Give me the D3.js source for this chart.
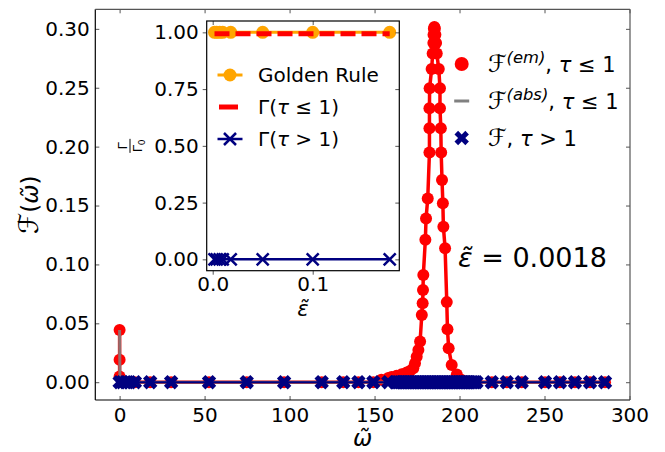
<!DOCTYPE html>
<html>
<head>
<meta charset="utf-8">
<script src="https://cdn.jsdelivr.net/npm/d3@7"></script>
<style>
  body { margin: 0; background: #fff; }
  svg { font-family: "DejaVu Sans", sans-serif; }
</style>
</head>
<body>
<div id="chart"></div>
<script>
// ---- main panel data: [omega, F] ----
const emission = [
  [0, 0.0443], [0, 0.019], [0, 0.0048], [1.5, 0], [3.5, 0], [6, 0], [9, 0], [18, 0],
  [30.3, 0], [52.6, 0], [74.8, 0], [96.8, 0], [118.9, 0], [131.6, 0], [140.5, 0],
  [149.3, 0], [154, 0.002], [158.1, 0.0035], [160, 0.0045], [163, 0.0054], [166, 0.0068],
  [168.9, 0.0082], [170.9, 0.0095], [172.8, 0.0119], [173.8, 0.016], [174.8, 0.0217],
  [175.8, 0.0274], [176.8, 0.0345], [177.8, 0.0571], [178.3, 0.067], [178.5, 0.0783],
  [178.7, 0.0911], [179.9, 0.121], [180.3, 0.139], [181.3, 0.156], [182.3, 0.195],
  [182.3, 0.2156], [182.3, 0.2326], [182.4, 0.2496], [183.6, 0.266], [184.2, 0.279],
  [184.6, 0.288], [184.7, 0.295], [184.9, 0.300], [185.2, 0.3015], [185.5, 0.300],
  [185.8, 0.295], [186.2, 0.288], [186.6, 0.279], [187.8, 0.266], [188.5, 0.2496],
  [188.5, 0.2326], [189.0, 0.2156], [189.2, 0.195], [189.7, 0.1717], [190.2, 0.152],
  [190.5, 0.132], [191.5, 0.1138], [192.5, 0.068], [192.9, 0.045], [193.6, 0.0289],
  [195.4, 0.0147], [198.4, 0.0065], [201, 0.002], [204, 0], [207, 0], [210, 0],
  [219, 0], [227.8, 0], [236.6, 0], [250.3, 0], [259.1, 0], [267.9, 0], [276.8, 0], [285.6, 0]
];

const absorption = [
  [0, 0.0443], [0.2, 0], [1.5, 0], [3.5, 0], [6, 0], [9, 0], [18, 0], [30.3, 0],
  [52.6, 0], [74.8, 0], [96.8, 0], [118.9, 0], [131.6, 0], [140.5, 0], [149.3, 0],
  [158.1, 0], [170, 0], [185, 0], [200, 0], [210, 0], [219, 0], [236.6, 0],
  [250.3, 0], [267.9, 0], [285.6, 0]
];

const fTauGt1 = [
  [0, 0], [1.5, 0], [3.5, 0], [6, 0], [9, 0], [18, 0], [30.3, 0], [52.6, 0], [74.8, 0],
  [96.8, 0], [118.9, 0], [131.6, 0], [140.5, 0], [149.3, 0], [158.1, 0],
  [162, 0], [163, 0], [164, 0], [165, 0], [166, 0], [167, 0], [168, 0], [169, 0],
  [170, 0], [171, 0], [172, 0], [173, 0], [174, 0], [175, 0], [176, 0], [177, 0],
  [178, 0], [179, 0], [180, 0], [181, 0], [182, 0], [183, 0], [184, 0], [185, 0],
  [186, 0], [187, 0], [188, 0], [189, 0], [190, 0], [191, 0], [192, 0], [193, 0],
  [194, 0], [195, 0], [196, 0], [197, 0], [198, 0], [199, 0], [200, 0], [201, 0],
  [202, 0], [203, 0], [204, 0], [205, 0], [206, 0], [207, 0], [208, 0], [209, 0],
  [210, 0], [219, 0], [227.8, 0], [236.6, 0], [250.3, 0], [259.1, 0], [267.9, 0],
  [276.8, 0], [285.6, 0]
];

const xTicks = [0, 50, 100, 150, 200, 250, 300];
const yTicks = [0, 0.05, 0.10, 0.15, 0.20, 0.25, 0.30];

// ---- inset data ----
const epsilon = [0.0018, 0.004, 0.007, 0.01, 0.018, 0.05, 0.1, 0.177];
const goldenRule = [1, 1, 1, 1, 1, 1, 1, 1];
const gammaLe1 = [0.994, 0.994, 0.994, 0.994, 0.994, 0.994, 0.994, 0.994];
const gammaGt1 = [0, 0, 0, 0, 0, 0, 0, 0];
const insetXTicks = [0, 0.1];
const insetYTicks = [0, 0.25, 0.5, 0.75, 1.0];

const RED = '#ff0000', GRAY = '#808080', NAVY = '#000080', ORANGE = '#ffa500';

const width = 665, height = 452;
const margin = { top: 9.3, right: 35, bottom: 52, left: 95.3 };
const FONT = '"DejaVu Sans", sans-serif';

const svg = d3.select('#chart').append('svg')
  .attr('width', width)
  .attr('height', height);

const x = d3.scaleLinear().domain([-14.3, 300.3]).range([margin.left, width - margin.right]);
const y = d3.scaleLinear().domain([-0.0151, 0.3166]).range([height - margin.bottom, margin.top]);

// rich text helper: parts = [{t, it, sup, sub, fs}]
function rich(textSel, parts, size) {
  let shift = 0;
  parts.forEach(p => {
    const ts = textSel.append('tspan').text(p.t);
    let target = 0, fs = p.fs || size;
    if (p.sup) { target = -size * 0.45; fs = size * 0.78; }
    if (p.sub) { target = size * 0.25; fs = size * 0.7; }
    ts.attr('dy', target - shift).attr('font-size', fs);
    if (p.it) ts.attr('font-style', 'italic');
    shift = target;
  });
  return textSel;
}

// X-shaped filled marker
const filledX = d3.symbol().type(d3.symbolCross).size(130)();
const thinX = 'M-6,-6L6,6M-6,6L6,-6';

// ---- main data ----
const line = d3.line().x(d => x(d[0])).y(d => y(d[1]));
const plot = svg.append('g');

plot.append('path').datum(emission)
  .attr('d', line).attr('fill', 'none').attr('stroke', RED).attr('stroke-width', 3.5);
plot.append('g').selectAll('circle').data(emission).join('circle')
  .attr('cx', d => x(d[0])).attr('cy', d => y(d[1])).attr('r', 6).attr('fill', RED);

plot.append('path').datum(absorption)
  .attr('d', line).attr('fill', 'none').attr('stroke', GRAY).attr('stroke-width', 3)
  .attr('stroke-opacity', 0.85);

plot.append('path').datum(fTauGt1)
  .attr('d', line).attr('fill', 'none').attr('stroke', NAVY).attr('stroke-width', 2);
plot.append('g').selectAll('path').data(fTauGt1).join('path')
  .attr('d', filledX)
  .attr('transform', d => `translate(${x(d[0])},${y(d[1])}) rotate(45)`)
  .attr('fill', NAVY);

// ---- main axes ----
function tidy(g, size) {
  g.attr('font-family', FONT).attr('font-size', size);
  g.select('.domain').remove();
  g.selectAll('.tick line').attr('stroke', '#555');
  g.selectAll('.tick text').attr('fill', '#000');
}
const x0 = margin.left, x1 = width - margin.right;
const y0 = margin.top, y1 = height - margin.bottom;

svg.append('g').attr('transform', `translate(0,${y1})`)
  .call(d3.axisBottom(x).tickValues(xTicks).tickSize(-4).tickPadding(7.5).tickFormat(d3.format('d')))
  .call(g => tidy(g, 20));
svg.append('g').attr('transform', `translate(0,${y0})`)
  .call(d3.axisTop(x).tickValues(xTicks).tickSize(-4).tickFormat(''))
  .call(g => tidy(g, 20));
svg.append('g').attr('transform', `translate(${x0},0)`)
  .call(d3.axisLeft(y).tickValues(yTicks).tickSize(-4).tickPadding(5.5).tickFormat(d3.format('.2f')))
  .call(g => tidy(g, 20));
svg.append('g').attr('transform', `translate(${x1},0)`)
  .call(d3.axisRight(y).tickValues(yTicks).tickSize(-4).tickFormat(''))
  .call(g => tidy(g, 20));

// spines
svg.append('line').attr('x1', x0).attr('x2', x0).attr('y1', y0).attr('y2', y1).attr('stroke', '#000').attr('stroke-width', 1.2);
svg.append('line').attr('x1', x0).attr('x2', x1).attr('y1', y1).attr('y2', y1).attr('stroke', '#000').attr('stroke-width', 1.2);
svg.append('line').attr('x1', x0).attr('x2', x1).attr('y1', y0).attr('y2', y0).attr('stroke', '#555').attr('stroke-width', 1.2);
svg.append('line').attr('x1', x1).attr('x2', x1).attr('y1', y0).attr('y2', y1).attr('stroke', '#555').attr('stroke-width', 1.2);

// axis labels
rich(svg.append('text').attr('x', (x0 + x1) / 2).attr('y', 446).attr('text-anchor', 'middle')
  .attr('font-family', FONT), [{ t: 'ω\u0303', it: true }], 23);
rich(svg.append('text').attr('transform', `translate(38,${(y0 + y1) / 2}) rotate(-90)`)
  .attr('text-anchor', 'middle').attr('font-family', FONT),
  [{ t: 'ℱ', fs: 27 }, { t: '(' }, { t: 'ω\u0303', it: true }, { t: ')' }], 23);

// annotation
rich(svg.append('text').attr('x', 458).attr('y', 267).attr('font-family', FONT),
  [{ t: 'ε\u0303', it: true }, { t: ' = 0.0018' }], 27);

// ---- main legend ----
const legendItems = [
  { kind: 'circle', parts: [{ t: 'ℱ', fs: 24 }, { t: '(em)', sup: true, it: true }, { t: ', ' }, { t: 'τ', it: true }, { t: ' ≤ 1' }] },
  { kind: 'line', parts: [{ t: 'ℱ', fs: 24 }, { t: '(abs)', sup: true, it: true }, { t: ', ' }, { t: 'τ', it: true }, { t: ' ≤ 1' }] },
  { kind: 'x', parts: [{ t: 'ℱ', fs: 24 }, { t: ', ' }, { t: 'τ', it: true }, { t: ' > 1' }] }
];
const legend = svg.append('g').attr('transform', 'translate(461.7,64)');
legendItems.forEach((it, i) => {
  const g = legend.append('g').attr('transform', `translate(0,${i * 37})`);
  if (it.kind === 'circle') g.append('circle').attr('r', 7).attr('fill', RED);
  if (it.kind === 'line') g.append('line').attr('x1', -7.5).attr('x2', 7.5).attr('stroke', GRAY).attr('stroke-width', 3);
  if (it.kind === 'x') g.append('path').attr('d', filledX).attr('transform', 'rotate(45)').attr('fill', NAVY);
  rich(g.append('text').attr('x', 26).attr('y', 8).attr('font-family', FONT), it.parts, 21);
});

// ---- inset ----
const box = { left: 206.7, right: 399.3, top: 21, bottom: 270.7 };
const xi = d3.scaleLinear().domain([-0.006, 0.1866]).range([box.left, box.right]);
const yi = d3.scaleLinear().domain([-0.05, 1.05]).range([box.bottom, box.top]);
const inset = svg.append('g');
inset.append('rect').attr('x', box.left).attr('y', box.top)
  .attr('width', box.right - box.left).attr('height', box.bottom - box.top)
  .attr('fill', '#fff');

const lineI = d3.line().x(d => xi(d[0])).y(d => yi(d[1]));
const gr = d3.zip(epsilon, goldenRule);
const gl = d3.zip(epsilon, gammaLe1);
const gg = d3.zip(epsilon, gammaGt1);

inset.append('path').datum(gr).attr('d', lineI).attr('fill', 'none').attr('stroke', ORANGE).attr('stroke-width', 3);
inset.append('g').selectAll('circle').data(gr).join('circle')
  .attr('cx', d => xi(d[0])).attr('cy', d => yi(d[1])).attr('r', 6.5).attr('fill', ORANGE);
inset.append('path').datum(gl).attr('d', lineI).attr('fill', 'none').attr('stroke', RED)
  .attr('stroke-width', 5).attr('stroke-dasharray', '15,6');
inset.append('path').datum(gg).attr('d', lineI).attr('fill', 'none').attr('stroke', NAVY).attr('stroke-width', 2.5);
inset.append('g').selectAll('path').data(gg).join('path')
  .attr('d', thinX).attr('transform', d => `translate(${xi(d[0])},${yi(d[1])})`)
  .attr('stroke', NAVY).attr('stroke-width', 2.5).attr('fill', 'none');

inset.append('g').attr('transform', `translate(0,${box.bottom})`)
  .call(d3.axisBottom(xi).tickValues(insetXTicks).tickSize(4).tickPadding(2.5).tickFormat(d3.format('.1f')))
  .call(g => tidy(g, 20));
inset.append('g').attr('transform', `translate(0,${box.top})`)
  .call(d3.axisTop(xi).tickValues(insetXTicks).tickSize(-4).tickFormat(''))
  .call(g => tidy(g, 20));
inset.append('g').attr('transform', `translate(${box.left},0)`)
  .call(d3.axisLeft(yi).tickValues(insetYTicks).tickSize(4).tickPadding(4).tickFormat(d3.format('.2f')))
  .call(g => tidy(g, 20));
inset.append('g').attr('transform', `translate(${box.right},0)`)
  .call(d3.axisRight(yi).tickValues(insetYTicks).tickSize(-4).tickFormat(''))
  .call(g => tidy(g, 20));
inset.append('rect').attr('x', box.left).attr('y', box.top)
  .attr('width', box.right - box.left).attr('height', box.bottom - box.top)
  .attr('fill', 'none').attr('stroke', '#000').attr('stroke-width', 1.2);

// inset labels
rich(inset.append('text').attr('x', (box.left + box.right) / 2).attr('y', 316)
  .attr('text-anchor', 'middle').attr('font-family', FONT), [{ t: 'ε\u0303', it: true }], 21);
const frac = inset.append('g')
  .attr('transform', `translate(130,${(box.top + box.bottom) / 2}) rotate(-90)`)
  .attr('font-family', FONT).attr('font-size', 13);
frac.append('text').attr('y', -3).attr('text-anchor', 'middle').text('Γ');
frac.append('line').attr('x1', -7).attr('x2', 7).attr('stroke', '#000').attr('stroke-width', 1);
rich(frac.append('text').attr('y', 12).attr('text-anchor', 'middle'), [{ t: 'Γ' }, { t: '0', sub: true }], 13);

// inset legend
const insetLegend = [
  { kind: 'golden', parts: [{ t: 'Golden Rule' }] },
  { kind: 'dash', parts: [{ t: 'Γ(' }, { t: 'τ', it: true }, { t: ' ≤ 1)' }] },
  { kind: 'x', parts: [{ t: 'Γ(' }, { t: 'τ', it: true }, { t: ' > 1)' }] }
];
const il = inset.append('g').attr('transform', 'translate(230,75)');
insetLegend.forEach((it, i) => {
  const g = il.append('g').attr('transform', `translate(0,${i * 32})`);
  if (it.kind === 'golden') {
    g.append('line').attr('x1', -12.5).attr('x2', 12.5).attr('stroke', ORANGE).attr('stroke-width', 3);
    g.append('circle').attr('r', 6.5).attr('fill', ORANGE);
  }
  if (it.kind === 'dash') g.append('line').attr('x1', -11).attr('x2', 8).attr('stroke', RED).attr('stroke-width', 5);
  if (it.kind === 'x') {
    g.append('line').attr('x1', -12.5).attr('x2', 12.5).attr('stroke', NAVY).attr('stroke-width', 2.5);
    g.append('path').attr('d', thinX).attr('stroke', NAVY).attr('stroke-width', 2.5);
  }
  rich(g.append('text').attr('x', 28).attr('y', 7).attr('font-family', FONT), it.parts, 20);
});
</script>
</body>
</html>
